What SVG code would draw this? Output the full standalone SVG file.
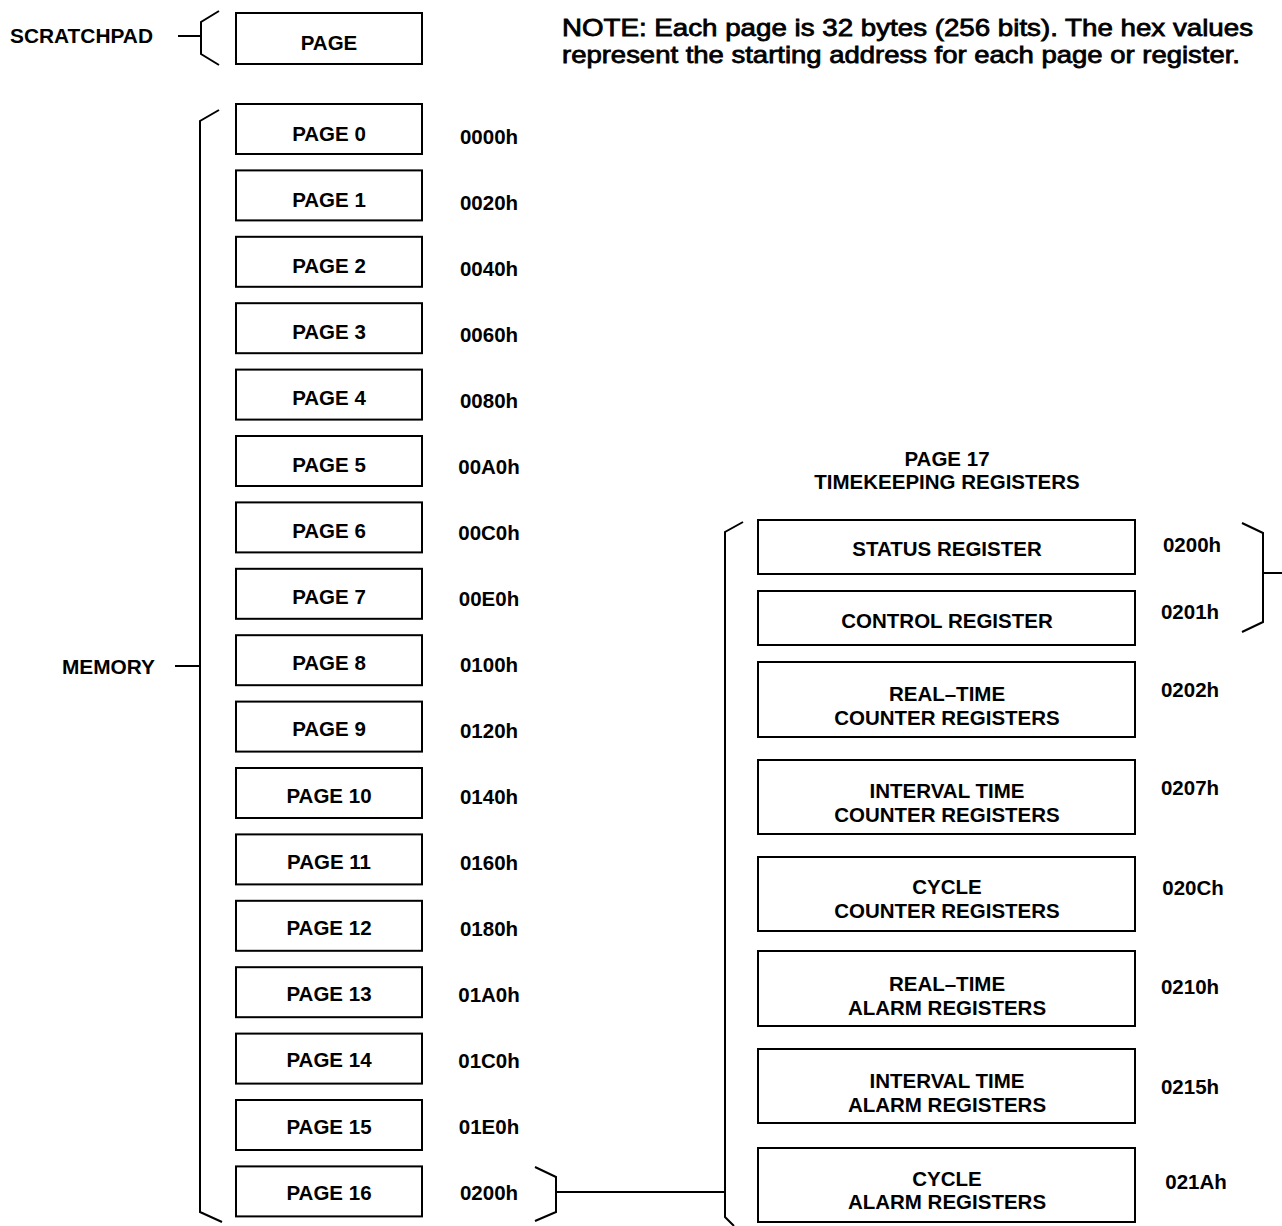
<svg xmlns="http://www.w3.org/2000/svg" width="1282" height="1226" viewBox="0 0 1282 1226">
<style>
  .box { fill: #fff; stroke: #000; stroke-width: 2; }
  .br { fill: none; stroke: #000; stroke-width: 2; }
  .t { font-family: "Liberation Sans", Arial, sans-serif; font-weight: bold; font-size: 20.5px; fill: #000; }
  .c { text-anchor: middle; }
  .note { font-family: "Liberation Sans", Arial, sans-serif; font-size: 24px; fill: #000; stroke: #000; stroke-width: 0.8; }
</style>
<rect width="1282" height="1226" fill="#fff"/>

<g id="note">
  <text class="note" x="562" y="36" textLength="691" lengthAdjust="spacingAndGlyphs">NOTE: Each page is 32 bytes (256 bits). The hex values</text>
  <text class="note" x="562" y="63" textLength="678" lengthAdjust="spacingAndGlyphs">represent the starting address for each page or register.</text>
</g>

<g id="labels">
  <text class="t" x="10" y="42.5" textLength="143" lengthAdjust="spacingAndGlyphs">SCRATCHPAD</text>
  <text class="t" x="62" y="673.5" textLength="93" lengthAdjust="spacingAndGlyphs">MEMORY</text>
  <text class="t c" x="947" y="465.5">PAGE 17</text>
  <text class="t c" x="947" y="488.5">TIMEKEEPING REGISTERS</text>
</g>

<g id="connectors">
  <path class="br" d="M219,11 L201,22 L201,54 L219,65"/>
  <line class="br" x1="178" y1="36" x2="201" y2="36"/>
  <path class="br" d="M219,110 L200,121 L200,1212 L222,1222"/>
  <line class="br" x1="175" y1="666" x2="200" y2="666"/>
  <path class="br" d="M535,1167 L556,1177 L556,1212 L535,1221"/>
  <line class="br" x1="556" y1="1192" x2="725" y2="1192"/>
  <path class="br" d="M743,522 L725,532 L725,1217 L734,1226"/>
  <path class="br" d="M1242,523 L1263,533 L1263,622 L1242,632"/>
  <line class="br" x1="1263" y1="573" x2="1282" y2="573"/>
</g>

<g id="scratchpad-page">
  <rect class="box" x="236" y="13" width="186" height="51"/>
  <text class="t c" x="329" y="49.5">PAGE</text>
</g>

<g id="page0"><rect class="box" x="236" y="104" width="186" height="50"/><text class="t c" x="329" y="140.5">PAGE 0</text><text class="t c" x="489" y="144.3">0000h</text></g>
<g id="page1"><rect class="box" x="236" y="170.4" width="186" height="50"/><text class="t c" x="329" y="206.7">PAGE 1</text><text class="t c" x="489" y="210.3">0020h</text></g>
<g id="page2"><rect class="box" x="236" y="236.8" width="186" height="50"/><text class="t c" x="329" y="272.9">PAGE 2</text><text class="t c" x="489" y="276.3">0040h</text></g>
<g id="page3"><rect class="box" x="236" y="303.2" width="186" height="50"/><text class="t c" x="329" y="339.1">PAGE 3</text><text class="t c" x="489" y="342.3">0060h</text></g>
<g id="page4"><rect class="box" x="236" y="369.6" width="186" height="50"/><text class="t c" x="329" y="405.3">PAGE 4</text><text class="t c" x="489" y="408.3">0080h</text></g>
<g id="page5"><rect class="box" x="236" y="436" width="186" height="50"/><text class="t c" x="329" y="471.5">PAGE 5</text><text class="t c" x="489" y="474.3">00A0h</text></g>
<g id="page6"><rect class="box" x="236" y="502.4" width="186" height="50"/><text class="t c" x="329" y="537.7">PAGE 6</text><text class="t c" x="489" y="540.3">00C0h</text></g>
<g id="page7"><rect class="box" x="236" y="568.8" width="186" height="50"/><text class="t c" x="329" y="603.9">PAGE 7</text><text class="t c" x="489" y="606.3">00E0h</text></g>
<g id="page8"><rect class="box" x="236" y="635.2" width="186" height="50"/><text class="t c" x="329" y="670.1">PAGE 8</text><text class="t c" x="489" y="672.3">0100h</text></g>
<g id="page9"><rect class="box" x="236" y="701.6" width="186" height="50"/><text class="t c" x="329" y="736.3">PAGE 9</text><text class="t c" x="489" y="738.3">0120h</text></g>
<g id="page10"><rect class="box" x="236" y="768" width="186" height="50"/><text class="t c" x="329" y="802.5">PAGE 10</text><text class="t c" x="489" y="804.3">0140h</text></g>
<g id="page11"><rect class="box" x="236" y="834.4" width="186" height="50"/><text class="t c" x="329" y="868.7">PAGE 11</text><text class="t c" x="489" y="870.3">0160h</text></g>
<g id="page12"><rect class="box" x="236" y="900.8" width="186" height="50"/><text class="t c" x="329" y="934.9">PAGE 12</text><text class="t c" x="489" y="936.3">0180h</text></g>
<g id="page13"><rect class="box" x="236" y="967.2" width="186" height="50"/><text class="t c" x="329" y="1001.1">PAGE 13</text><text class="t c" x="489" y="1002.3">01A0h</text></g>
<g id="page14"><rect class="box" x="236" y="1033.6" width="186" height="50"/><text class="t c" x="329" y="1067.3">PAGE 14</text><text class="t c" x="489" y="1068.3">01C0h</text></g>
<g id="page15"><rect class="box" x="236" y="1100" width="186" height="50"/><text class="t c" x="329" y="1133.5">PAGE 15</text><text class="t c" x="489" y="1134.3">01E0h</text></g>
<g id="page16"><rect class="box" x="236" y="1166.4" width="186" height="50"/><text class="t c" x="329" y="1199.7">PAGE 16</text><text class="t c" x="489" y="1200.3">0200h</text></g>

<g id="status-register"><rect class="box" x="758" y="520" width="377" height="54"/><text class="t c" x="947" y="556.3">STATUS REGISTER</text><text class="t c" x="1192" y="552.3">0200h</text></g>
<g id="control-register"><rect class="box" x="758" y="591" width="377" height="54"/><text class="t c" x="947" y="628.3">CONTROL REGISTER</text><text class="t c" x="1190" y="619.3">0201h</text></g>
<g id="rt-counter"><rect class="box" x="758" y="662" width="377" height="75"/><text class="t c" x="947" y="701.3">REAL–TIME</text><text class="t c" x="947" y="725.3">COUNTER REGISTERS</text><text class="t c" x="1190" y="697.3">0202h</text></g>
<g id="it-counter"><rect class="box" x="758" y="760" width="377" height="74"/><text class="t c" x="947" y="798.3">INTERVAL TIME</text><text class="t c" x="947" y="822.3">COUNTER REGISTERS</text><text class="t c" x="1190" y="795.3">0207h</text></g>
<g id="cycle-counter"><rect class="box" x="758" y="857" width="377" height="74"/><text class="t c" x="947" y="894.3">CYCLE</text><text class="t c" x="947" y="918.3">COUNTER REGISTERS</text><text class="t c" x="1193" y="895.3">020Ch</text></g>
<g id="rt-alarm"><rect class="box" x="758" y="951" width="377" height="75"/><text class="t c" x="947" y="991.3">REAL–TIME</text><text class="t c" x="947" y="1015.3">ALARM REGISTERS</text><text class="t c" x="1190" y="994.3">0210h</text></g>
<g id="it-alarm"><rect class="box" x="758" y="1049" width="377" height="74"/><text class="t c" x="947" y="1088.3">INTERVAL TIME</text><text class="t c" x="947" y="1112.3">ALARM REGISTERS</text><text class="t c" x="1190" y="1094.3">0215h</text></g>
<g id="cycle-alarm"><rect class="box" x="758" y="1148" width="377" height="74"/><text class="t c" x="947" y="1186.3">CYCLE</text><text class="t c" x="947" y="1209.3">ALARM REGISTERS</text><text class="t c" x="1196" y="1189.3">021Ah</text></g>
</svg>
